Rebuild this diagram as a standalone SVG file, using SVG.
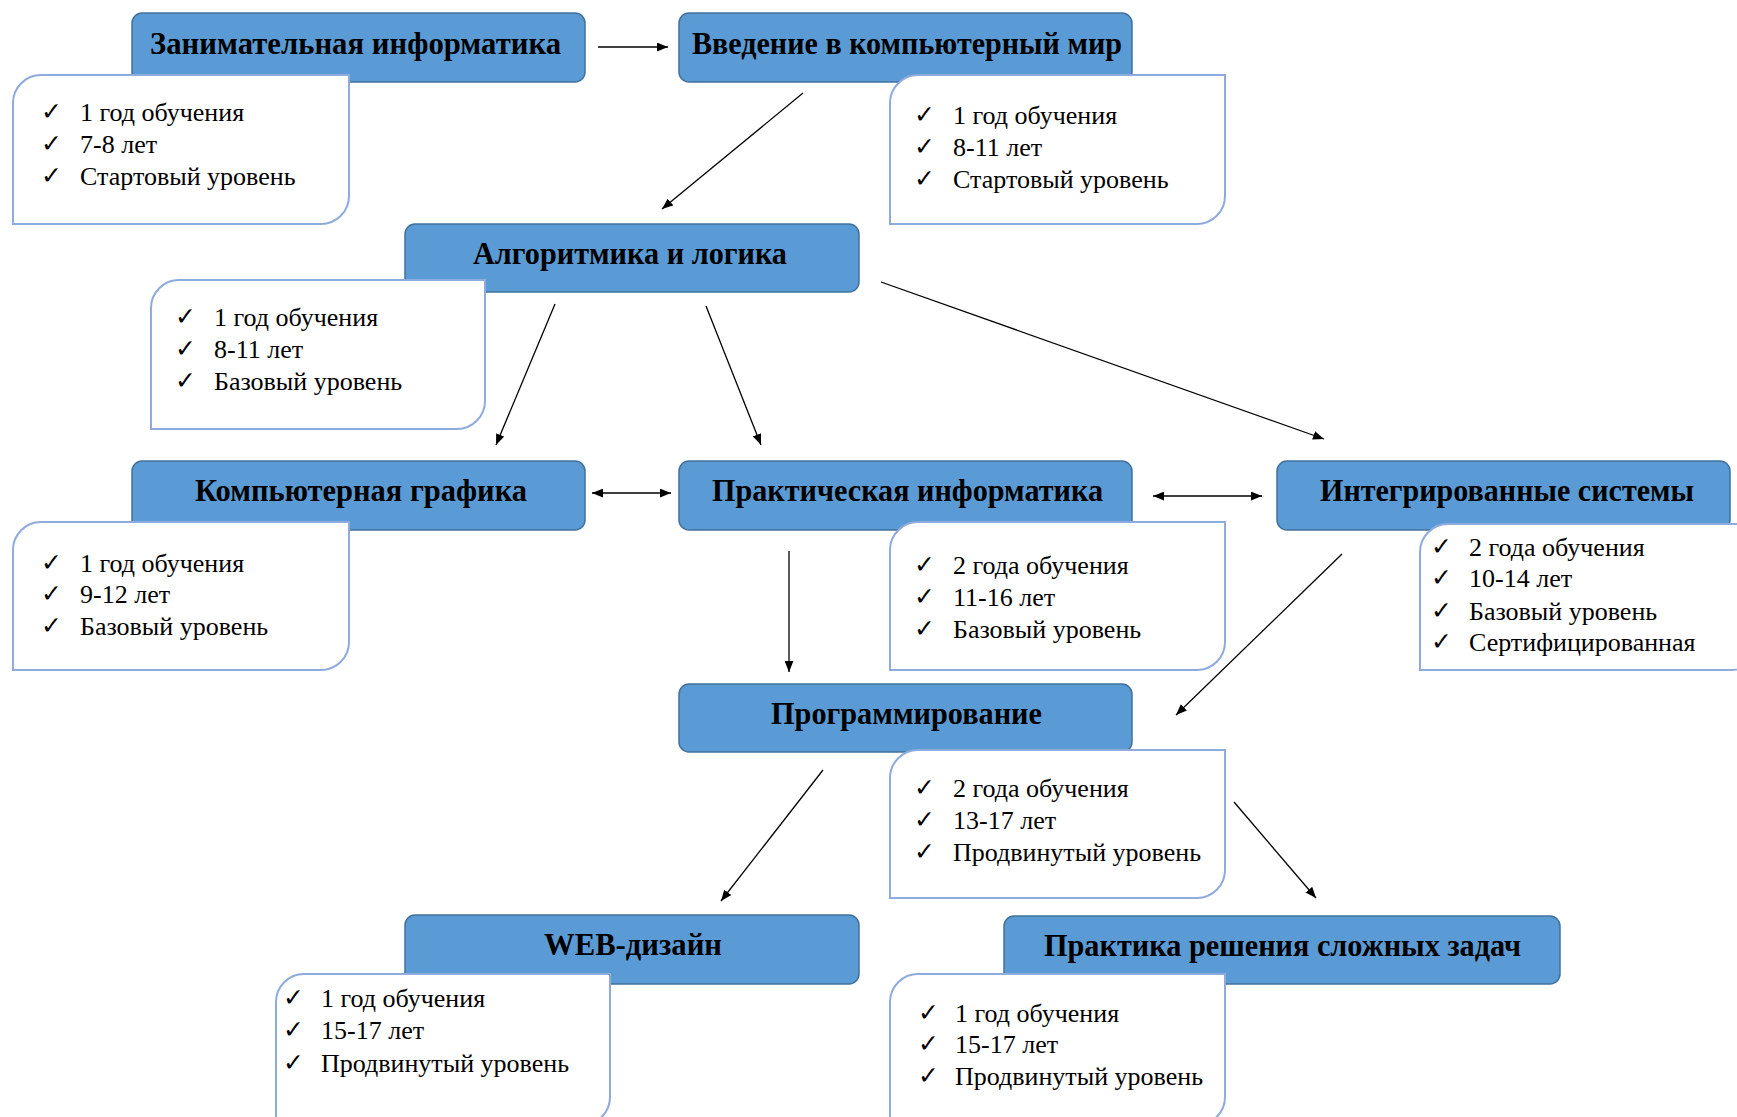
<svg xmlns="http://www.w3.org/2000/svg" width="1737" height="1117" viewBox="0 0 1737 1117">
<style>
.hdr rect{fill:#5B9BD5;stroke:#41719C;stroke-width:1.5}
.hdr text{font-family:"Liberation Serif","Times New Roman",serif;font-weight:bold;font-size:31px;fill:#000}
.det path{fill:#fff;stroke:#8FAADC;stroke-width:2}
.det text{font-family:"Liberation Serif","Times New Roman",serif;font-size:26px;fill:#000}
.det text.chk{font-family:"DejaVu Sans",sans-serif;font-size:25px}
.conn line{stroke:#000;stroke-width:1.3;fill:none;marker-end:url(#ah)}
.conn line.both{marker-start:url(#ah)}
</style>
<defs>
<marker id="ah" viewBox="0 0 10 8" refX="10" refY="4" markerWidth="11" markerHeight="9" markerUnits="userSpaceOnUse" orient="auto-start-reverse"><path d="M0,0 L10,4 L0,8 z" fill="#000"/></marker>
</defs>
<rect width="1737" height="1117" fill="#fff"/>

<g id="n1">
<g class="hdr"><rect x="132" y="13" width="453" height="69" rx="10"/><text x="150" y="54" textLength="411" lengthAdjust="spacingAndGlyphs">Занимательная информатика</text></g>
<g class="det"><path d="M13,103 A28 28 0 0 1 41,75 H349 V196 A28 28 0 0 1 321,224 H13 Z"/>
<text class="chk" x="41" y="120">✓</text><text x="80" y="121">1 год обучения</text>
<text class="chk" x="41" y="152">✓</text><text x="80" y="153">7-8 лет</text>
<text class="chk" x="41" y="184">✓</text><text x="80" y="185">Стартовый уровень</text></g>
</g>

<g id="n2">
<g class="hdr"><rect x="679" y="13" width="453" height="69" rx="10"/><text x="692" y="54" textLength="430" lengthAdjust="spacingAndGlyphs">Введение в компьютерный мир</text></g>
<g class="det"><path d="M890,103 A28 28 0 0 1 918,75 H1225 V196 A28 28 0 0 1 1197,224 H890 Z"/>
<text class="chk" x="914" y="123">✓</text><text x="953" y="124">1 год обучения</text>
<text class="chk" x="914" y="155">✓</text><text x="953" y="156">8-11 лет</text>
<text class="chk" x="914" y="187">✓</text><text x="953" y="188">Стартовый уровень</text></g>
</g>

<g id="n3">
<g class="hdr"><rect x="405" y="224" width="454" height="68" rx="10"/><text x="473" y="264" textLength="314" lengthAdjust="spacingAndGlyphs">Алгоритмика и логика</text></g>
<g class="det"><path d="M151,308 A28 28 0 0 1 179,280 H485 V401 A28 28 0 0 1 457,429 H151 Z"/>
<text class="chk" x="175" y="325">✓</text><text x="214" y="326">1 год обучения</text>
<text class="chk" x="175" y="357">✓</text><text x="214" y="358">8-11 лет</text>
<text class="chk" x="175" y="389">✓</text><text x="214" y="390">Базовый уровень</text></g>
</g>

<g id="n4">
<g class="hdr"><rect x="132" y="461" width="453" height="69" rx="10"/><text x="195" y="501" textLength="332" lengthAdjust="spacingAndGlyphs">Компьютерная графика</text></g>
<g class="det"><path d="M13,550 A28 28 0 0 1 41,522 H349 V642 A28 28 0 0 1 321,670 H13 Z"/>
<text class="chk" x="41" y="571">✓</text><text x="80" y="572">1 год обучения</text>
<text class="chk" x="41" y="602">✓</text><text x="80" y="603">9-12 лет</text>
<text class="chk" x="41" y="634">✓</text><text x="80" y="635">Базовый уровень</text></g>
</g>

<g id="n5">
<g class="hdr"><rect x="679" y="461" width="453" height="69" rx="10"/><text x="712" y="501" textLength="391" lengthAdjust="spacingAndGlyphs">Практическая информатика</text></g>
<g class="det"><path d="M890,550 A28 28 0 0 1 918,522 H1225 V642 A28 28 0 0 1 1197,670 H890 Z"/>
<text class="chk" x="914" y="573">✓</text><text x="953" y="574">2 года обучения</text>
<text class="chk" x="914" y="605">✓</text><text x="953" y="606">11-16 лет</text>
<text class="chk" x="914" y="637">✓</text><text x="953" y="638">Базовый уровень</text></g>
</g>

<g id="n6">
<g class="hdr"><rect x="1277" y="461" width="453" height="69" rx="10"/><text x="1320" y="501" textLength="374" lengthAdjust="spacingAndGlyphs">Интегрированные системы</text></g>
<g class="det"><path d="M1420,552 A28 28 0 0 1 1448,524 H1760 V642 A28 28 0 0 1 1732,670 H1420 Z"/>
<text class="chk" x="1431" y="555">✓</text><text x="1469" y="556">2 года обучения</text>
<text class="chk" x="1431" y="586">✓</text><text x="1469" y="587">10-14 лет</text>
<text class="chk" x="1431" y="619">✓</text><text x="1469" y="620">Базовый уровень</text>
<text class="chk" x="1431" y="650">✓</text><text x="1469" y="651">Сертифицированная</text></g>
</g>

<g id="n7">
<g class="hdr"><rect x="679" y="684" width="453" height="68" rx="10"/><text x="771" y="724" textLength="271" lengthAdjust="spacingAndGlyphs">Программирование</text></g>
<g class="det"><path d="M890,778 A28 28 0 0 1 918,750 H1225 V870 A28 28 0 0 1 1197,898 H890 Z"/>
<text class="chk" x="914" y="796">✓</text><text x="953" y="797">2 года обучения</text>
<text class="chk" x="914" y="828">✓</text><text x="953" y="829">13-17 лет</text>
<text class="chk" x="914" y="860">✓</text><text x="953" y="861">Продвинутый уровень</text></g>
</g>

<g id="n8">
<g class="hdr"><rect x="405" y="915" width="454" height="69" rx="10"/><text x="544" y="955" textLength="178" lengthAdjust="spacingAndGlyphs">WEB-дизайн</text></g>
<g class="det"><path d="M276,1002 A28 28 0 0 1 304,974 H610 V1097 A28 28 0 0 1 582,1125 H276 Z"/>
<text class="chk" x="283" y="1006">✓</text><text x="321" y="1007">1 год обучения</text>
<text class="chk" x="283" y="1038">✓</text><text x="321" y="1039">15-17 лет</text>
<text class="chk" x="283" y="1071">✓</text><text x="321" y="1072">Продвинутый уровень</text></g>
</g>

<g id="n9">
<g class="hdr"><rect x="1004" y="916" width="556" height="68" rx="10"/><text x="1044" y="956" textLength="477" lengthAdjust="spacingAndGlyphs">Практика решения сложных задач</text></g>
<g class="det"><path d="M890,1002 A28 28 0 0 1 918,974 H1225 V1097 A28 28 0 0 1 1197,1125 H890 Z"/>
<text class="chk" x="918" y="1021">✓</text><text x="955" y="1022">1 год обучения</text>
<text class="chk" x="918" y="1052">✓</text><text x="955" y="1053">15-17 лет</text>
<text class="chk" x="918" y="1084">✓</text><text x="955" y="1085">Продвинутый уровень</text></g>
</g>

<g id="connectors" class="conn">
<line x1="598" y1="47" x2="668" y2="47"/>
<line x1="803" y1="93" x2="662" y2="209"/>
<line x1="555" y1="304" x2="496" y2="445"/>
<line x1="706" y1="306" x2="761" y2="445"/>
<line x1="881" y1="282" x2="1324" y2="439"/>
<line class="both" x1="592" y1="493" x2="671" y2="493"/>
<line class="both" x1="1153" y1="496" x2="1262" y2="496"/>
<line x1="789" y1="551" x2="789" y2="672"/>
<line x1="1342" y1="554" x2="1176" y2="715"/>
<line x1="823" y1="770" x2="721" y2="901"/>
<line x1="1234" y1="802" x2="1316" y2="898"/>
</g>
</svg>
